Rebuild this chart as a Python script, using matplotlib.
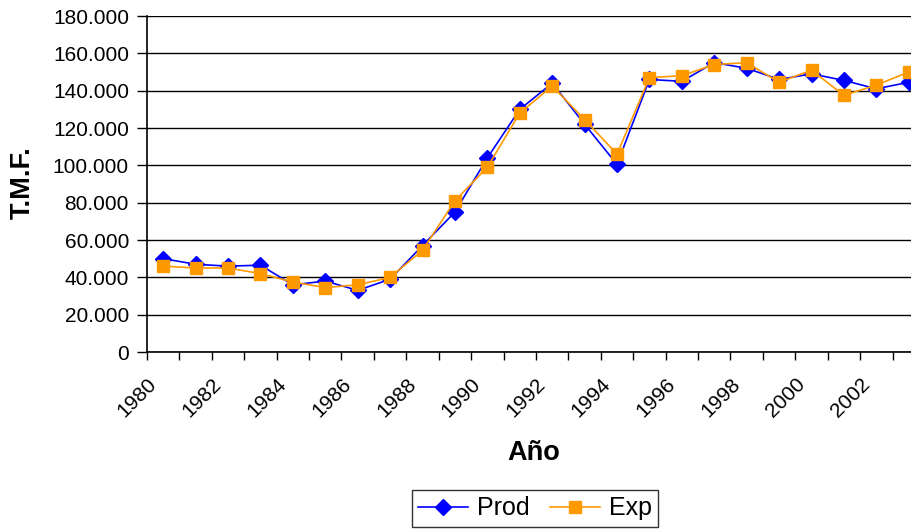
import matplotlib
matplotlib.use("Agg")
import matplotlib.pyplot as plt
from matplotlib.ticker import FuncFormatter, MultipleLocator

years = list(range(1980, 2004))
prod = [50000, 47000, 46000, 46500, 36000, 38000, 33000, 39000, 57000, 75000,
        104000, 130000, 144000, 122000, 100500, 146000, 145000, 155000, 152000,
        146000, 149000, 145500, 141000, 144500]
exp_ = [46000, 45000, 45000, 42000, 37500, 34500, 36000, 40000, 54500, 81000,
        99000, 128000, 142500, 124500, 106000, 147000, 148000, 154000, 155000,
        144500, 151000, 137500, 143000, 150000]

plt.rcParams['font.family'] = ['Liberation Sans', 'DejaVu Sans']

fig = plt.figure(figsize=(9.12, 5.29), dpi=100)
ax = fig.add_axes([147 / 912, 1 - 352 / 529, 1 - 147 / 912, (352 - 16) / 529])

x = [i + 0.5 for i in range(len(years))]
ax.plot(x, prod, color='#0000FF', lw=1.2, marker='D', ms=8.5, label='Prod', zorder=3)
ax.plot(x, exp_, color='#FF9900', lw=1.2, marker='s', ms=9, label='Exp', zorder=4)

ax.set_xlim(0, 23.6)
ax.set_ylim(0, 180000)
ax.yaxis.set_major_locator(MultipleLocator(20000))
ax.yaxis.set_major_formatter(FuncFormatter(lambda v, p: f"{int(v):,}".replace(",", ".")))
ax.grid(axis='y', color='black', lw=1)
ax.set_axisbelow(True)

ax.set_xticks(range(24))
ax.set_xticklabels([str(y) if (y - 1980) % 2 == 0 else '' for y in years],
                   rotation=45, ha='right', va='top', rotation_mode='anchor')
ax.tick_params(axis='x', length=6, width=1, pad=10, labelsize=15)
ax.tick_params(axis='y', length=7, width=1, pad=6, labelsize=15)

for s in ['top', 'right']:
    ax.spines[s].set_visible(False)
for s in ['left', 'bottom']:
    ax.spines[s].set_linewidth(1.2)

fig.text(534 / 912, 1 - 453 / 529, 'Año', fontsize=19.5, fontweight='bold',
         ha='center', va='center')
fig.text(23 / 912, 1 - 183 / 529, 'T.M.F.', fontsize=19.5, fontweight='bold',
         rotation=90, ha='center', va='center')

leg = fig.legend(loc='lower center', bbox_to_anchor=(535 / 912, 0.0), ncol=2,
                 fontsize=18, frameon=True, fancybox=False, edgecolor='black',
                 handlelength=2.0, handletextpad=0.35, columnspacing=0.8,
                 borderpad=0.25, borderaxespad=0.1)
leg.get_frame().set_linewidth(1)

fig.savefig('out.png', dpi=100)
